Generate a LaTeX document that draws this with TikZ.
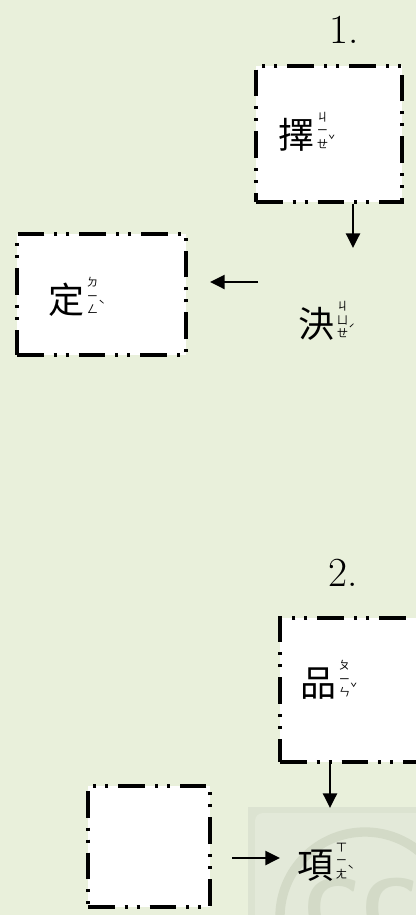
\documentclass[tikz,border=0pt]{standalone}
\usepackage{fontspec}
\newfontfamily\cjk{Noto Sans CJK TC}
\usetikzlibrary{arrows.meta,positioning}
\definecolor{paper}{HTML}{E9F0DB}
\definecolor{markgray}{HTML}{DCE3D1}
\definecolor{marklight}{HTML}{E3E9D9}
\definecolor{markring}{HTML}{D3DAC7}
\tikzstyle{frame}=[rectangle,draw=black,fill=white,line width=2.4pt,inner sep=0pt,dash pattern=on 20pt off 7.5pt on 2.25pt off 6.75pt on 2.25pt off 7.5pt]
\tikzstyle{word}=[inner sep=0pt,anchor=west]
\tikzstyle{num}=[inner sep=0pt,font=\fontsize{31}{31}\selectfont]
\tikzstyle{flow}=[-{Triangle[length=11pt,width=10.5pt]},line width=1.8pt]
\tikzstyle{ccmark}=[text=markring,inner sep=0pt,anchor=north west,font=\sffamily\bfseries\fontsize{62}{62}\selectfont]
% hanzi with its zhuyin stacked at the side
\newcommand\zhuyin[5]{{\cjk\fontsize{27}{27}\selectfont #1}\hspace{2pt}%
  {\cjk\fontsize{8.5}{10}\selectfont\vbox{\halign{\hfil##\hfil\cr #2\cr #3\cr #4\cr}}\raisebox{3pt}{#5}}}

\begin{document}
\begin{tikzpicture}[x=0.75pt,y=-0.75pt]

\useasboundingbox (0,0) rectangle (416,915);
\clip (0,0) rectangle (416,915);
\fill[paper] (0,0) rectangle (416,915);

% faded watermark
\fill[markgray] (248,807) rectangle (420,920);
\fill[marklight,rounded corners=6pt] (255,813) rectangle (425,925);
\draw[markring,line width=7pt] (365,917) circle[radius=85];
\node[ccmark] (cc) at (303,878) {CC};

% 1.
\node[num] (one) at (344,30) {1.};
\node[frame,minimum width=109.5pt,minimum height=102pt] (zeBox) at (329,134) {};
\node[word] (ze) at (278,131.5) {\zhuyin{擇}{ㄐ}{ㄧ}{ㄝ}{ˇ}};
\node[word] (jue) at (298,321) {\zhuyin{決}{ㄐ}{ㄩ}{ㄝ}{ˊ}};
\node[frame,minimum width=126.75pt,minimum height=90.75pt] (dingBox) at (101.5,294.5) {};
\node[word] (ding) at (48,297) {\zhuyin{定}{ㄉ}{ㄧ}{ㄥ}{ˋ}};
\coordinate (zeEnd) at (353,248);
\coordinate (jueFrom) at (258,282);
\coordinate (jueTo) at (210,282);
\draw[flow] (zeBox.south -| zeEnd) -- (zeEnd);
\draw[flow] (jueFrom) -- (jueTo);

% 2.
\node[num] (two) at (343,573) {2.};
\node[frame,minimum width=108.75pt,minimum height=108pt] (pinBox) at (352.5,690) {};
\node[word] (pin) at (300,680) {\zhuyin{品}{ㄆ}{ㄧ}{ㄣ}{ˇ}};
\node[frame,minimum width=91.5pt,minimum height=90.75pt] (blankBox) at (149,846.5) {};
\node[word] (xiang) at (297,862) {\zhuyin{項}{ㄒ}{ㄧ}{ㄤ}{ˋ}};
\coordinate (pinEnd) at (330,808);
\coordinate (blankFrom) at (232,858);
\coordinate (blankTo) at (280,858);
\draw[flow] (pinBox.south -| pinEnd) -- (pinEnd);
\draw[flow] (blankFrom) -- (blankTo);

\end{tikzpicture}
\end{document}
